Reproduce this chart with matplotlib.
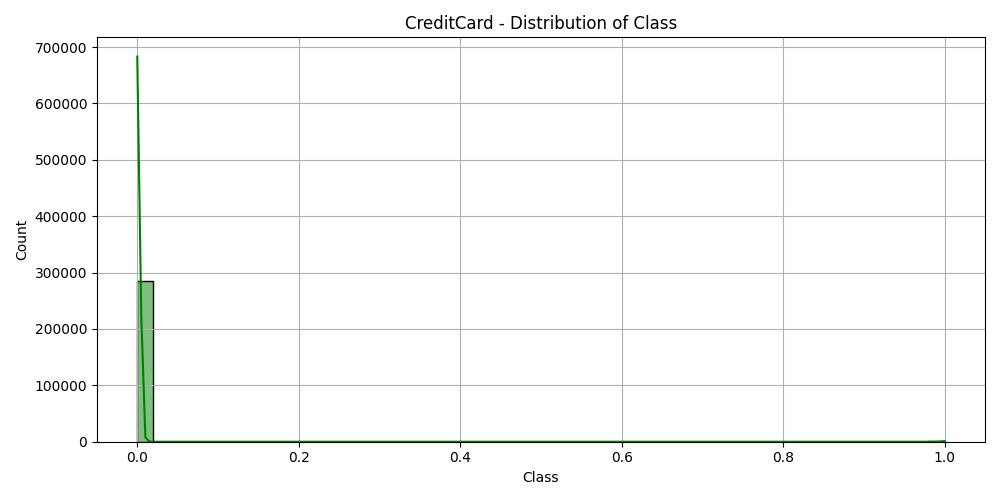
import matplotlib
matplotlib.use("Agg")
import matplotlib.pyplot as plt
import numpy as np

# histogram of the Class column (50 bins over 0..1)
bin_edges = np.linspace(0, 1, 51)
counts = [284315] + [0] * 48 + [492]

# kde curve (scaled to counts)
kde_x = [0.0, 0.005, 0.010, 0.015, 0.020, 0.980, 0.985, 0.990, 0.995, 1.0]
kde_y = [683000, 221000, 7900, 30, 0, 0, 0, 14, 380, 1170]

fig, ax = plt.subplots(figsize=(10, 5), dpi=100)

ax.bar(bin_edges[:-1], counts, width=np.diff(bin_edges), align="edge",
       color="green", alpha=0.5, edgecolor="none")
ax.bar(bin_edges[:-1], counts, width=np.diff(bin_edges), align="edge",
       facecolor="none", edgecolor="black", linewidth=1)
ax.plot(kde_x, kde_y, color="green", linewidth=1.5)

ax.set_title("CreditCard - Distribution of Class")
ax.set_xlabel("Class")
ax.set_ylabel("Count")
ax.grid(True)

plt.tight_layout()
plt.savefig("out.png")
